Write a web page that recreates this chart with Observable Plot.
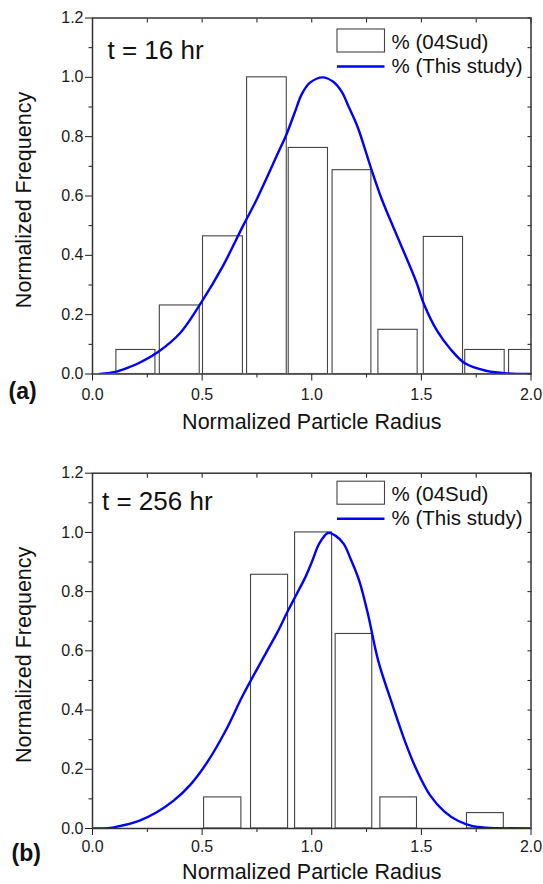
<!DOCTYPE html>
<html><head><meta charset="utf-8">
<script src="https://cdn.jsdelivr.net/npm/d3@7"></script>
<script src="https://cdn.jsdelivr.net/npm/@observablehq/plot@0.6"></script>
<style>
body{margin:0;background:#fff;}
#chart{width:543px;height:884px;}
#chart svg{display:block;}
</style></head><body><div id="chart"></div>
<script>
// ---- data ----
const xTicksMajor = [0, 0.5, 1.0, 1.5, 2.0];
const xTicksMinor = [0.25, 0.75, 1.25, 1.75];
const yTicksMajor = [0, 0.2, 0.4, 0.6, 0.8, 1.0, 1.2];
const yTicksMinor = [0.1, 0.3, 0.5, 0.7, 0.9, 1.1];

// panel (a) t = 16 hr : histogram (04Sud)
const binStartA = [0.109, 0.307, 0.504, 0.705, 0.895, 1.095, 1.304, 1.511, 1.70, 1.90];
const binEndA   = [0.287, 0.489, 0.686, 0.886, 1.074, 1.272, 1.483, 1.690, 1.88, 2.08];
const freqA     = [0.081, 0.231, 0.464, 1.000, 0.762, 0.687, 0.149, 0.462, 0.081, 0.081];
// panel (a) curve (This study)
const curveXA = [0.033,0.109,0.165,0.212,0.299,0.40,0.497,0.592,0.687,0.75,0.845,0.886,0.924,0.955,0.992,1.05,1.098,1.137,1.169,1.208,1.272,1.319,1.398,1.477,1.512,1.572,1.635,1.699,1.794,1.88,2.0];
const curveYA = [0,0.008,0.022,0.037,0.074,0.138,0.242,0.36,0.50,0.59,0.743,0.81,0.885,0.944,0.982,1.0,0.985,0.951,0.90,0.835,0.69,0.59,0.45,0.31,0.235,0.145,0.082,0.036,0.011,0.003,0];

// panel (b) t = 256 hr : histogram (04Sud)
const binStartB = [0.509, 0.723, 0.924, 1.109, 1.313, 1.708];
const binEndB   = [0.679, 0.892, 1.093, 1.276, 1.480, 1.876];
const freqB     = [0.105, 0.857, 1.000, 0.657, 0.105, 0.052];
// panel (b) curve (This study)
const curveXB = [0.006,0.07,0.117,0.212,0.291,0.37,0.449,0.528,0.607,0.686,0.789,0.845,0.892,0.932,0.971,1.003,1.034,1.074,1.106,1.145,1.177,1.216,1.256,1.303,1.367,1.43,1.477,1.54,1.604,1.667,1.73,1.794,2.0];
const curveYB = [0,0.001,0.007,0.026,0.054,0.094,0.15,0.229,0.33,0.45,0.59,0.665,0.736,0.793,0.849,0.905,0.962,0.998,0.99,0.962,0.911,0.838,0.725,0.567,0.42,0.285,0.2,0.112,0.058,0.026,0.009,0.003,0];

const xTitle = "Normalized Particle Radius";
const yTitle = "Normalized Frequency";
const legendBars = "% (04Sud)";
const legendLine = "% (This study)";

const FONT = "'Liberation Sans', Arial, Helvetica, sans-serif";
const fmt = d3.format(".1f");

function panel(p) {
  const bins = p.x1.map((d, i) => ({x1: d, x2: p.x2[i], y: p.f[i]}));
  const curve = p.cx.map((d, i) => ({x: d, y: p.cy[i]}));
  const ML = 92, MR = 12.5;
  const svg = Plot.plot({
    width: 543,
    height: p.height,
    marginLeft: ML,
    marginRight: MR,
    marginTop: p.mt,
    marginBottom: p.mb,
    style: {fontFamily: FONT, fontSize: "16px", color: "#1a1a1a", background: "#fff"},
    x: {domain: [0, 2], label: null},
    y: {domain: [0, 1.2], label: null},
    marks: [
      Plot.rect(bins, {x1: "x1", x2: "x2", y1: 0, y2: "y", fill: "white", stroke: "#444", strokeWidth: 1.1, clip: true}),
      Plot.line(curve, {x: "x", y: "y", stroke: "#0000ff", strokeWidth: 2.4, curve: "catmull-rom", clip: true}),
      // bottom axis
      Plot.axisX(xTicksMajor, {anchor: "bottom", tickSize: 7, tickPadding: p.tickPad, tickFormat: fmt, fontSize: 16, label: null}),
      Plot.axisX(xTicksMinor, {anchor: "bottom", tickSize: 4, tickFormat: () => "", label: null}),
      // top mirrored ticks (inward)
      Plot.axisX(xTicksMajor.concat(xTicksMinor), {anchor: "top", tickSize: -4, tickFormat: () => "", label: null}),
      // left axis
      Plot.axisY(yTicksMajor, {anchor: "left", tickSize: 7, tickPadding: 2, tickFormat: fmt, fontSize: 16, label: null}),
      Plot.axisY(yTicksMinor, {anchor: "left", tickSize: 3.5, tickFormat: () => "", label: null}),
      // right mirrored ticks (inward)
      Plot.axisY(yTicksMajor.concat(yTicksMinor), {anchor: "right", tickSize: -4, tickFormat: () => "", label: null}),
      Plot.frame({stroke: "#333", strokeWidth: 1.5}),
      // titles
      Plot.text([xTitle], {text: d => d, frameAnchor: "bottom", dy: p.titleDy, lineAnchor: "bottom", fontSize: 21.5, fill: "#111"}),
      Plot.text([yTitle], {text: d => d, frameAnchor: "left", textAnchor: "middle", dx: -62, dy: 4, rotate: -90, lineAnchor: "bottom", fontSize: 21.5, fill: "#111"}),
      Plot.text([p.tag], {text: d => d, frameAnchor: "bottom-left", dx: p.tagDx, dy: p.tagDy, textAnchor: "start", lineAnchor: "bottom", fontSize: 23, fontWeight: "bold", fill: "#111"}),
      Plot.text([p.time], {text: d => d, frameAnchor: "top-left", dx: p.tDx, dy: p.tDy, textAnchor: "start", lineAnchor: "bottom", fontSize: 26, fill: "#111"}),
      // legend texts
      Plot.text([legendBars], {text: d => d, frameAnchor: "top-left", dx: 299, dy: p.lt + 19.5, textAnchor: "start", lineAnchor: "bottom", fontSize: 20.5, fill: "#111"}),
      Plot.text([legendLine], {text: d => d, frameAnchor: "top-left", dx: 299, dy: p.lt + 43.5, textAnchor: "start", lineAnchor: "bottom", fontSize: 20.5, fill: "#111"})
    ]
  });
  // legend swatches
  const s = d3.select(svg);
  const lx = ML + 245, lw = 47.5, top = p.mt + p.lt;
  s.append("rect").attr("x", lx).attr("y", top).attr("width", lw).attr("height", 23)
    .attr("fill", "white").attr("stroke", "#444").attr("stroke-width", 1.1);
  s.append("line").attr("x1", lx).attr("x2", lx + lw).attr("y1", top + 37.5).attr("y2", top + 37.5)
    .attr("stroke", "#0000ff").attr("stroke-width", 2.4);
  return svg;
}

const chart = document.getElementById("chart");
chart.appendChild(panel({
  height: 440, mt: 17.5, mb: 66.5, tickPad: 7.5, titleDy: 54.5,
  tag: "(a)", tagDx: -84, tagDy: 24.5,
  time: "t = 16 hr", tDx: 15, tDy: 40.5, lt: 11.5,
  x1: binStartA, x2: binEndA, f: freqA, cx: curveXA, cy: curveYA
}));
chart.appendChild(panel({
  height: 444, mt: 32.7, mb: 56, tickPad: 5, titleDy: 50.5,
  tag: "(b)", tagDx: -81, tagDy: 32,
  time: "t = 256 hr", tDx: 9.5, tDy: 36.6, lt: 8.5,
  x1: binStartB, x2: binEndB, f: freqB, cx: curveXB, cy: curveYB
}));
</script>
</body></html>
